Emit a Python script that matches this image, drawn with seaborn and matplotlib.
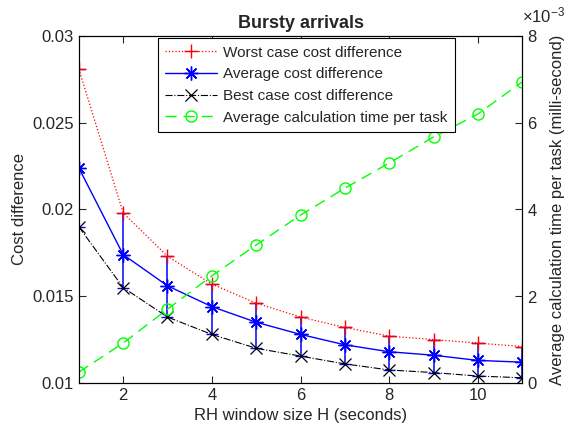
import numpy as np
import pandas as pd
import seaborn as sns
import matplotlib
matplotlib.use("Agg")
import matplotlib.pyplot as plt
from matplotlib.ticker import ScalarFormatter, FuncFormatter

# values
window = [1, 2, 3, 4, 5, 6, 7, 8, 9, 10, 11]
worst_cost = [0.0281, 0.0198, 0.0173, 0.0157, 0.0146, 0.0138, 0.0132, 0.0127, 0.0125, 0.0123, 0.0121]
avg_cost = [0.0224, 0.0174, 0.0156, 0.0144, 0.0135, 0.0128, 0.0122, 0.0118, 0.0116, 0.0113, 0.0112]
best_cost = [0.0190, 0.0155, 0.0138, 0.0128, 0.0120, 0.01155, 0.0111, 0.01075, 0.0106, 0.0104, 0.0103]
calc_time = [0.00025, 0.00092, 0.00170, 0.00247, 0.00318, 0.00387, 0.00449, 0.00507, 0.00567, 0.00620, 0.00694]

df = pd.DataFrame({'H': window, 'worst': worst_cost, 'avg': avg_cost,
                   'best': best_cost, 'time': calc_time})

sns.set_style("ticks", {"xtick.direction": "in", "ytick.direction": "in"})
plt.rcParams['font.family'] = ['Liberation Sans', 'DejaVu Sans']
plt.rcParams['mathtext.fontset'] = 'custom'
plt.rcParams['mathtext.rm'] = 'Liberation Sans'
plt.rcParams['axes.edgecolor'] = 'black'
plt.rcParams['axes.linewidth'] = 0.8

fig = plt.figure(figsize=(5.67, 4.33), dpi=100)
ax = fig.add_axes([0.139, 0.1155, 0.782, 0.8015])
ax2 = ax.twinx()

# min/max bars around the average
ax.errorbar(df['H'], df['avg'], yerr=[df['avg'] - df['best'], df['worst'] - df['avg']],
            fmt='none', ecolor='blue', elinewidth=1.1, capsize=4, capthick=1.0, zorder=1)

sns.lineplot(data=df, x='H', y='worst', ax=ax, color='red', linestyle=':', linewidth=0.9,
             marker='+', markersize=10, markeredgewidth=1.0, markeredgecolor='red',
             legend=False, label='Worst case cost difference')
sns.lineplot(data=df, x='H', y='avg', ax=ax, color='blue', linestyle='-', linewidth=1.0,
             marker=(8, 2, 0), markersize=10, markeredgewidth=1.0, markeredgecolor='blue',
             legend=False, label='Average cost difference')
sns.lineplot(data=df, x='H', y='best', ax=ax, color='black', linestyle='-.', linewidth=0.8,
             marker='x', markersize=8, markeredgewidth=0.9, markeredgecolor='black',
             legend=False, label='Best case cost difference')
sns.lineplot(data=df, x='H', y='time', ax=ax2, color='#00ff00', linestyle=(0, (8, 5)), linewidth=1.0,
             marker='o', markersize=8, markerfacecolor='none', markeredgecolor='#00ff00',
             markeredgewidth=1.0, legend=False, label='Average calculation time per task')

ax.set_xlim(1, 11)
ax.set_ylim(0.01, 0.03)
ax.set_xticks([2, 4, 6, 8, 10])
ax.set_yticks([0.01, 0.015, 0.02, 0.025, 0.03])
ax.yaxis.set_major_formatter(FuncFormatter(lambda v, p: '%g' % v))
ax2.set_ylim(0, 0.008)
ax2.set_yticks([0, 0.002, 0.004, 0.006, 0.008])
fmt = ScalarFormatter(useMathText=True)
fmt.set_powerlimits((0, 0))
ax2.yaxis.set_major_formatter(fmt)
ax2.yaxis.OFFSETTEXTPAD = 10
off = ax2.yaxis.get_offset_text()
off.set_fontsize(12)
off.set_x(1.0)
off.set_horizontalalignment('left')

ax.tick_params(axis='x', top=True, length=5, labelsize=12, width=0.8)
ax.tick_params(axis='y', right=False, length=5, labelsize=12, width=0.8)
ax2.tick_params(axis='y', length=5, labelsize=12, width=0.8)

ax.set_xlabel('RH window size H (seconds)', fontsize=12)
ax.set_ylabel('Cost difference', fontsize=12)
ax2.set_ylabel('Average calculation time per task (milli-second)', fontsize=12, labelpad=9)
ax.set_title('Bursty arrivals', fontsize=13, fontweight='bold')

h1, l1 = ax.get_legend_handles_labels()
h2, l2 = ax2.get_legend_handles_labels()
leg = ax2.legend(h1 + h2, l1 + l2, loc='upper left', bbox_to_anchor=(0.178, 0.994),
                 borderaxespad=0, fontsize=11, frameon=True, fancybox=False, framealpha=1,
                 edgecolor='black', handlelength=3.4, handletextpad=0.4,
                 borderpad=0.5, labelspacing=0.5)
leg.get_frame().set_linewidth(0.8)

fig.savefig('out.png', dpi=100)
